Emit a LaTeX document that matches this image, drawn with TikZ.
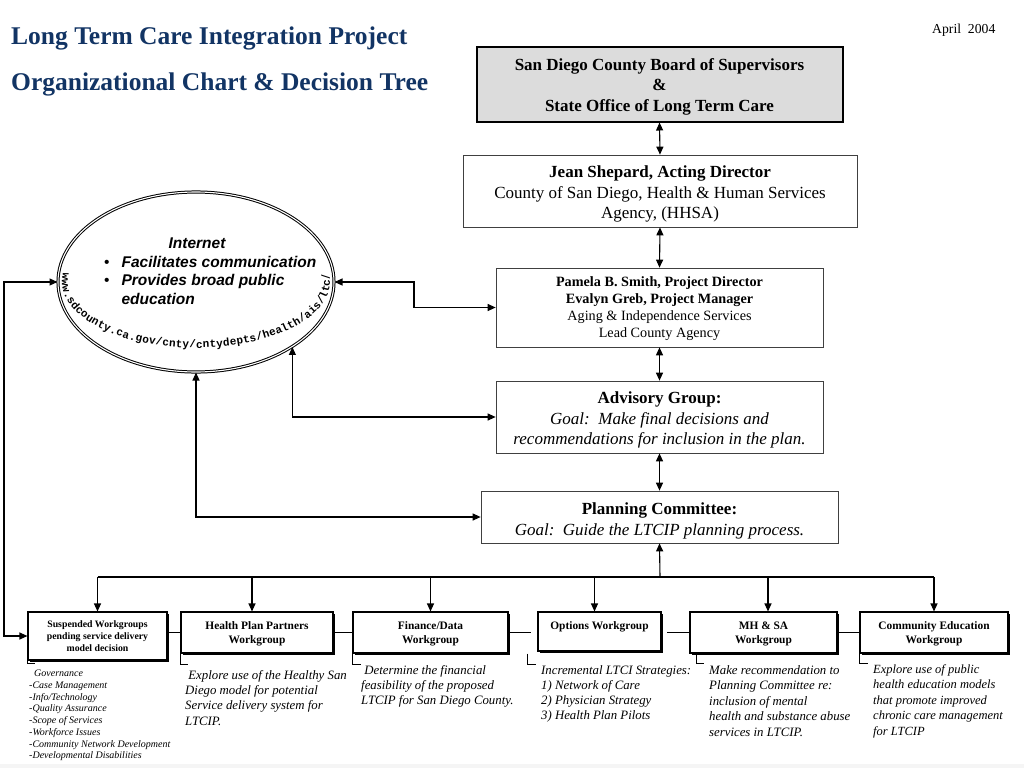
\documentclass[tikz,border=0pt]{standalone}
\usepackage{fontspec}
\setmainfont{Liberation Serif}
\setsansfont{Liberation Sans}
\setmonofont{Liberation Mono}
\usetikzlibrary{arrows.meta,shapes.geometric,decorations.text,shadows,calc}
\definecolor{navy}{RGB}{18,52,100}
\definecolor{boxgray}{RGB}{220,220,220}
\newcommand\fsz[2]{\fontsize{#1}{#2}\selectfont}
\newcommand\topup[1]{\rule{0pt}{#1}}
\begin{document}
\begin{tikzpicture}[x=1pt,y=-1pt,
  arr/.style={-{Triangle[length=8pt,width=7pt]},line width=1.1pt},
  darr/.style={{Triangle[length=8pt,width=7pt]}-{Triangle[length=8pt,width=7pt]},line width=1.1pt},
  thinbox/.style={draw=black!75,line width=0.7pt,align=center,inner sep=2pt},
  wgbox/.style={draw=black,fill=white,line width=1.1pt,align=center,inner sep=2pt,
     drop shadow={shadow xshift=1.6pt,shadow yshift=-1.6pt,opacity=1,fill=black},
     font=\bfseries\fsz{11.4}{14}},
  desc/.style={anchor=north west,align=left,inner sep=0pt,font=\itshape\fsz{12.8}{15.3}},
  titletext/.style={anchor=base west,inner sep=0pt,text=navy,font=\bfseries\fsz{25.5}{30}},
  line/.style={line width=1.1pt}
]
\useasboundingbox (0,0) rectangle (1024,768);
\fill[gray!8] (0,764) rectangle (1024,768);

% titles
\node[titletext] (t1) at (11,45) {Long Term Care Integration Project};
\node[titletext] (t2) at (11,90) {Organizational Chart \& Decision Tree};
\node[anchor=base west,inner sep=0pt,font=\fsz{13.7}{16}] (date) at (932,34) {April\ \ 2004};

% hierarchy
\node[draw=black,line width=2pt,fill=boxgray,minimum width=366,minimum height=74,align=center,
      font=\bfseries\fsz{17}{20.5}] (top) at (659.5,84.5)
  {\topup{16pt}San Diego County Board of Supervisors\\\&\\State Office of Long Term Care};
\node[thinbox,minimum width=394,minimum height=72,font=\fsz{17}{20.5}] (jean) at (660,191)
  {\topup{18pt}\textbf{Jean Shepard, Acting Director}\\County of San Diego, Health \& Human Services\\Agency, (HHSA)};
\node[thinbox,minimum width=327,minimum height=79,font=\fsz{14.2}{17}] (pam) at (659.5,307.5)
  {\topup{12pt}\textbf{Pamela B. Smith, Project Director}\\\textbf{Evalyn Greb, Project Manager}\\Aging \& Independence Services\\Lead County Agency};
\node[thinbox,minimum width=327,minimum height=72,font=\fsz{17}{20.5}] (adv) at (659.5,417)
  {\topup{18pt}\textbf{Advisory Group:}\\\textit{Goal:\ \ Make final decisions and}\\\textit{recommendations for inclusion in the plan.}};
\node[thinbox,minimum width=357,minimum height=52,font=\fsz{17}{21}] (plan) at (659.5,517)
  {\topup{19pt}\textbf{Planning Committee:}\\\textit{Goal:\ \ Guide the LTCIP planning process.}};

\draw[darr] (top.south) -- (jean.north);
\draw[darr] (jean.south) -- (pam.north);
\draw[darr] (pam.south) -- (adv.north);
\draw[darr] (adv.south) -- (plan.north);

% internet ellipse
\node[ellipse,draw=black,double,double distance=1.1pt,line width=1pt,
      minimum width=276,minimum height=180,inner sep=0pt] (ell) at (196,282) {};
\node[anchor=base,inner sep=0pt,font=\sffamily\bfseries\itshape\fsz{15.5}{18.7}] (inet) at (197,248) {Internet};
\node[anchor=base west,inner sep=0pt,font=\sffamily\bfseries\itshape\fsz{15.5}{18.7}] (ilist) at (104,267)
  {\begin{tabular}[t]{@{}l@{\hspace{12pt}}l@{}}{\mdseries\upshape\textbullet} & Facilitates communication\\
   {\mdseries\upshape\textbullet} & Provides broad public\\ & education\end{tabular}};
\path[decorate,decoration={text along path,text align={fit to path},
   text={|\ttfamily\bfseries\fsz{11}{11}|www.sdcounty.ca.gov/cnty/cntydepts/health/ais/ltc/}}]
  ([shift={(172:134pt and 66pt)}]ell.center) arc[start angle=172,end angle=368,x radius=134pt,y radius=66pt];

% workgroups
\node[wgbox,minimum width=139,minimum height=48,font=\bfseries\fsz{9.8}{12}] (s1) at (97.5,636)
  {Suspended Workgroups\\pending service delivery\\model decision};
\node[wgbox,minimum width=152,minimum height=41] (s2) at (257,632.5) {\topup{10pt}Health Plan Partners\\Workgroup};
\node[wgbox,minimum width=155,minimum height=41] (s3) at (430.5,632.5) {\topup{10pt}Finance/Data\\Workgroup};
\node[wgbox,minimum width=123,minimum height=39] (s4) at (599.5,631.5) {\topup{10pt}Options Workgroup\\\mbox{}};
\node[wgbox,minimum width=147,minimum height=41] (s5) at (763.5,632.5) {\topup{10pt}MH \& SA\\Workgroup};
\node[wgbox,minimum width=148,minimum height=41] (s6) at (934,632.5) {\topup{10pt}Community Education\\Workgroup};

% bus
\coordinate (bus) at (660,577);
\draw[arr] (bus) -- (plan.south);
\draw[line] (s1.north |- bus) -- (s6.north |- bus);
\draw[arr] (s1.north |- bus) -- (s1.north);
\draw[arr] ([xshift=-5pt]s2.north |- bus) -- ([xshift=-5pt]s2.north);
\draw[arr] (s3.north |- bus) -- (s3.north);
\draw[arr] ([xshift=-5pt]s4.north |- bus) -- ([xshift=-5pt]s4.north);
\draw[arr] ([xshift=4.5pt]s5.north |- bus) -- ([xshift=4.5pt]s5.north);
\draw[arr] (s6.north |- bus) -- (s6.north);

% side links between workgroups
\draw[line width=0.9pt] (s1.east |- s2.west) -- (s2.west);
\draw[line width=0.9pt] (s2.east) -- (s3.west);
\draw[line width=0.9pt] (s3.east) -- ++(22,0);
\draw[line width=0.9pt] (s5.west) -- ++(-22,0);
\draw[line width=0.9pt] (s5.east) -- (s6.west);

% brackets
\draw[line width=0.7pt] (s1.south west) -- ++(0,3) -- ++(8,0);
\draw[line width=0.7pt] (s2.south west) -- ++(0,11) -- ++(8,0);
\draw[line width=0.7pt] (s3.south west) -- ++(0,11) -- ++(9,0);
\draw[line width=0.7pt] ([shift={(-10pt,-2pt)}]s4.south west) -- ++(0,11) -- ++(9,0);
\draw[line width=0.7pt] ([xshift=7pt]s5.south west) -- ++(0,10) -- ++(8,0);
\draw[line width=0.7pt] (s6.south west) -- ++(0,10) -- ++(9,0);

% descriptions
\node[desc,font=\itshape\fsz{10}{11.7}] (d1) at (29,670)
  {\hspace{5pt}Governance\\-Case Management\\-Info/Technology\\-Quality Assurance\\-Scope of Services\\-Workforce Issues\\-Community Network Development\\-Developmental Disabilities};
\node[desc] (d2) at (185,670) {\ Explore use of the Healthy San\\Diego model for potential\\Service delivery system for\\LTCIP.};
\node[desc] (d3) at (361,665) {\ Determine the financial\\feasibility of the proposed\\LTCIP for San Diego County.};
\node[desc] (d4) at (541,665) {Incremental LTCI Strategies:\\1) Network of Care\\2) Physician Strategy\\3) Health Plan Pilots};
\node[desc,font=\itshape\fsz{12.8}{15.5}] (d5) at (709,665) {Make recommendation to\\Planning Committee re:\\inclusion of mental\\health and substance abuse\\services in LTCIP.};
\node[desc,font=\itshape\fsz{12.5}{15.5}] (d6) at (873,664) {Explore use of public\\health education models\\that promote improved\\chronic care management\\for LTCIP};

% internet links
\coordinate (lbend) at (4,282);
\coordinate (rbend) at (414,282);
\draw[darr] (ell.west) -- (lbend) |- (s1.west);
\draw[darr] (ell.east) -- (rbend) |- (pam.west);
\draw[darr] (ell.-34.5) |- (adv.west);
\draw[darr] (ell.south) |- (plan.west);
\end{tikzpicture}
\end{document}
